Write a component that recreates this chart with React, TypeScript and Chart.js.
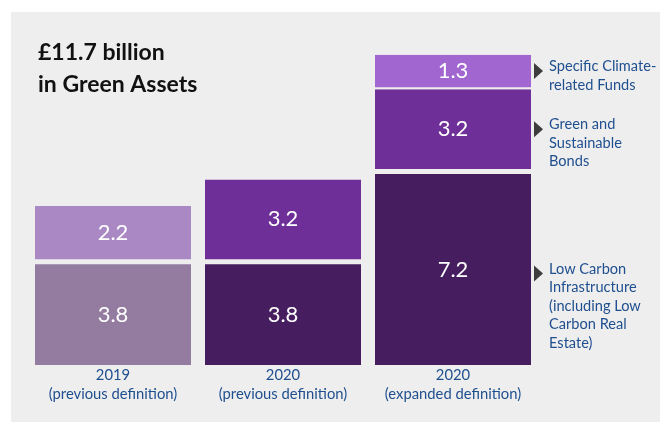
import React, { useEffect, useRef } from "react";
import { Chart, registerables } from "chart.js";

Chart.register(...registerables);

const categories = [
  ["2019", "(previous definition)"],
  ["2020", "(previous definition)"],
  ["2020", "(expanded definition)"],
];
const lowCarbon = [3.8, 3.8, 7.2];
const greenBonds = [2.2, 3.2, 3.2];
const climateFunds = [null, null, 1.3];
const seriesNames = [
  "Low Carbon Infrastructure (including Low Carbon Real Estate)",
  "Green and Sustainable Bonds",
  "Specific Climate-related Funds",
];
const annotationLines = [
  ["Low Carbon", "Infrastructure", "(including Low", "Carbon Real", "Estate)"],
  ["Green and", "Sustainable", "Bonds"],
  ["Specific Climate-", "related Funds"],
];
const titleLines = ["£11.7 billion", "in Green Assets"];

const FONT = "Lato, 'Noto Sans', sans-serif";
const BG = "#eeeeee";
const BLUE = "#1f4f8f";

const decorPlugin = {
  id: "decor",
  beforeDraw(chart: any) {
    const ctx = chart.ctx;
    ctx.save();
    ctx.fillStyle = "#ffffff";
    ctx.fillRect(0, 0, chart.width, chart.height);
    ctx.fillStyle = BG;
    ctx.fillRect(11, 12, chart.width - 11, 410);
    ctx.restore();
  },
  afterDatasetsDraw(chart: any) {
    const ctx = chart.ctx;
    ctx.save();
    // title
    ctx.fillStyle = "#111111";
    ctx.font = `bold 23px ${FONT}`;
    ctx.textAlign = "left";
    ctx.textBaseline = "alphabetic";
    titleLines.forEach((t, i) => ctx.fillText(t, 38, 60 + i * 32));

    const nDs = chart.data.datasets.length;
    for (let d = 0; d < nDs; d++) {
      const meta = chart.getDatasetMeta(d);
      const ds = chart.data.datasets[d];
      const bw = ds.borderWidth && typeof ds.borderWidth === "object" ? ds.borderWidth.bottom || 0 : 0;
      meta.data.forEach((el: any, i: number) => {
        const v = ds.data[i];
        if (v === null || v === undefined) return;
        const p = el.getProps(["x", "y", "base", "width"], true);
        const top = Math.min(p.y, p.base);
        const bottom = Math.max(p.y, p.base) - bw;
        const cy = (top + bottom) / 2;
        ctx.fillStyle = "#ffffff";
        ctx.font = `22px ${FONT}`;
        ctx.textAlign = "center";
        ctx.textBaseline = "middle";
        ctx.fillText(v.toFixed(1), p.x, cy);

        if (i === ds.data.length - 1) {
          const right = p.x + p.width / 2;
          const ty = cy + (d === 0 ? 4 : 0);
          ctx.fillStyle = "#3d3d3d";
          ctx.beginPath();
          ctx.moveTo(right + 3, ty - 8);
          ctx.lineTo(right + 12, ty);
          ctx.lineTo(right + 3, ty + 8);
          ctx.closePath();
          ctx.fill();
          ctx.fillStyle = BLUE;
          ctx.font = `14.6px ${FONT}`;
          ctx.textAlign = "left";
          ctx.textBaseline = "middle";
          annotationLines[d].forEach((line, k) => {
            ctx.fillText(line, right + 18, ty - 4.5 + k * 18.5);
          });
        }
      });
    }
    ctx.restore();
  },
};

export default function App() {
  const ref = useRef<HTMLCanvasElement | null>(null);
  useEffect(() => {
    document.body.style.margin = "0";
    if (!ref.current) return;
    const chart = new Chart(ref.current, {
      type: "bar",
      data: {
        labels: categories as any,
        datasets: [
          {
            label: seriesNames[0],
            data: lowCarbon,
            backgroundColor: ["#937ca0", "#461e60", "#461e60"],
            borderWidth: 0,
          },
          {
            label: seriesNames[1],
            data: greenBonds,
            backgroundColor: ["#aa88c4", "#6f2f99", "#6f2f99"],
            borderColor: BG,
            borderSkipped: false,
            borderWidth: { top: 0, left: 0, right: 0, bottom: 5 },
          },
          {
            label: seriesNames[2],
            data: climateFunds,
            backgroundColor: "#a166d0",
            borderColor: BG,
            borderSkipped: false,
            borderWidth: { top: 0, left: 0, right: 0, bottom: 2 },
          },
        ] as any,
      },
      options: {
        animation: false,
        responsive: true,
        maintainAspectRatio: false,
        layout: { padding: { left: 28, right: 122, top: 46.8, bottom: 18 } },
        plugins: {
          legend: { display: false },
          title: { display: false },
          tooltip: { enabled: false },
        },
        scales: {
          x: {
            stacked: true,
            grid: { display: false, drawTicks: false },
            border: { display: false },
            ticks: {
              color: BLUE,
              font: { family: FONT, size: 14.8, lineHeight: 1.28 },
              padding: 1,
            },
          },
          y: {
            stacked: true,
            display: false,
            min: 0,
            max: 12,
          },
        },
        datasets: {
          bar: { categoryPercentage: 1, barPercentage: 156 / 170 },
        },
      } as any,
      plugins: [decorPlugin],
    });
    return () => chart.destroy();
  }, []);
  return (
    <div style={{ width: 660, height: 423, position: "relative" }}>
      <canvas ref={ref} />
    </div>
  );
}
